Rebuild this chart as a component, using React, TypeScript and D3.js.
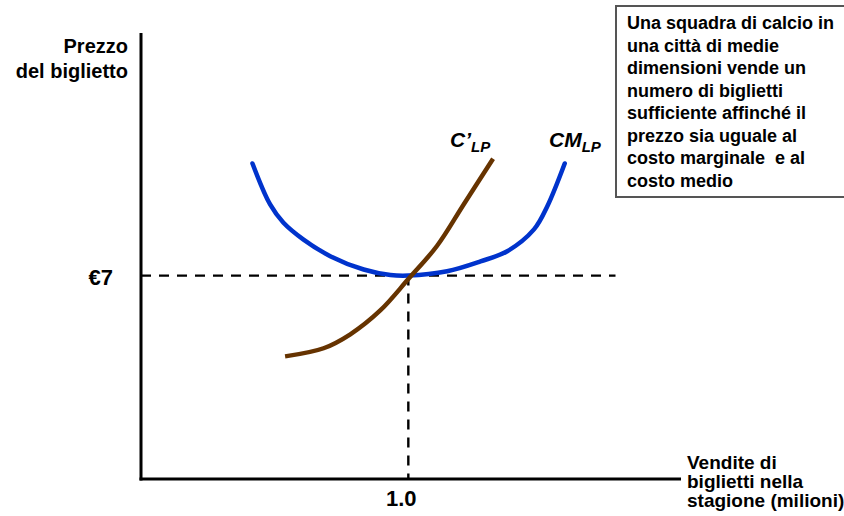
import React from "react";
import * as d3 from "d3";

// Long-run average cost (CM_LP): quantity (millions) / price (€)
const acQuantity = [0.417, 0.483, 0.533, 0.608, 0.708, 0.833, 0.933, 1.0, 1.145, 1.27, 1.37, 1.47, 1.52, 1.585];
const acPrice = [10.86, 9.45, 8.82, 8.24, 7.67, 7.21, 7.02, 7.0, 7.15, 7.49, 7.84, 8.59, 9.39, 10.86];

// Long-run marginal cost (C'_LP)
const mcQuantity = [0.539, 0.683, 0.783, 0.895, 1.0, 1.107, 1.207, 1.317];
const mcPrice = [4.22, 4.5, 4.98, 5.8, 6.88, 8.02, 9.45, 11.02];

const priceTicks = [7];
const priceTickLabels = ["€7"];
const quantityTicks = [1.0];
const quantityTickLabels = ["1.0"];

const yLabelLines = ["Prezzo", "del biglietto"];
const xLabelLines = ["Vendite di", "biglietti nella", "stagione (milioni)"];
const noteLines = [
  "Una squadra di calcio in",
  "una città di medie",
  "dimensioni vende un",
  "numero di biglietti",
  "sufficiente affinché il",
  "prezzo sia uguale al",
  "costo marginale  e al",
  "costo medio",
];

const W = 844;
const H = 516;
const FONT = "'Liberation Sans', Arial, Helvetica, sans-serif";

export default function App() {
  const x = d3.scaleLinear().domain([0, 2.02]).range([141, 681]);
  const y = d3.scaleLinear().domain([0, 15.35]).range([479, 33]);

  const line = d3
    .line<[number, number]>()
    .x((d) => x(d[0]))
    .y((d) => y(d[1]))
    .curve(d3.curveCatmullRom.alpha(0.5));

  const acPts = acQuantity.map((q, i) => [q, acPrice[i]] as [number, number]);
  const mcPts = mcQuantity.map((q, i) => [q, mcPrice[i]] as [number, number]);

  const eqQ = quantityTicks[0];
  const eqP = priceTicks[0];

  return (
    <svg
      width={W}
      height={H}
      style={{ position: "fixed", left: 0, top: 0, background: "#fff" }}
      fontFamily={FONT}
    >
      <rect x={0} y={0} width={W} height={H} fill="#fff" />

      {/* dashed guides */}
      <line
        x1={x(0)}
        x2={x(1.775)}
        y1={y(eqP)}
        y2={y(eqP)}
        stroke="#000"
        strokeWidth={2.4}
        strokeDasharray="10,8"
      />
      <line
        x1={x(eqQ)}
        x2={x(eqQ)}
        y1={y(eqP)}
        y2={y(0)}
        stroke="#000"
        strokeWidth={2.4}
        strokeDasharray="10,8"
      />

      {/* curves */}
      <path d={line(acPts) || ""} fill="none" stroke="#0033CC" strokeWidth={4.5} strokeLinecap="round" strokeLinejoin="round" />
      <path d={line(mcPts) || ""} fill="none" stroke="#663300" strokeWidth={4.5} strokeLinecap="butt" strokeLinejoin="round" />

      {/* axes */}
      <line x1={x(0)} x2={x(0)} y1={y(15.35)} y2={y(0) + 1.5} stroke="#000" strokeWidth={3} />
      <line x1={x(0) - 1.5} x2={x(2.02)} y1={y(0)} y2={y(0)} stroke="#000" strokeWidth={3} />

      {/* tick labels */}
      {priceTicks.map((p, i) => (
        <text key={"p" + i} x={113} y={y(p) + 9} textAnchor="end" fontSize={22} fontWeight="bold">
          {priceTickLabels[i]}
        </text>
      ))}
      {quantityTicks.map((q, i) => (
        <text key={"q" + i} x={x(q) - 7} y={506} textAnchor="middle" fontSize={22} fontWeight="bold">
          {quantityTickLabels[i]}
        </text>
      ))}

      {/* axis titles */}
      <text x={128} y={53} textAnchor="end" fontSize={20} fontWeight="bold">
        {yLabelLines.map((l, i) => (
          <tspan key={i} x={128} dy={i === 0 ? 0 : 25}>
            {l}
          </tspan>
        ))}
      </text>
      <text x={687} y={469} fontSize={19} fontWeight="bold">
        {xLabelLines.map((l, i) => (
          <tspan key={i} x={687} dy={i === 0 ? 0 : 19}>
            {l}
          </tspan>
        ))}
      </text>

      {/* curve labels */}
      <text x={450} y={147} fontSize={21} fontWeight="bold" fontStyle="italic">
        C’<tspan fontSize={15} dy={5}>LP</tspan>
      </text>
      <text x={549} y={147} fontSize={21} fontWeight="bold" fontStyle="italic">
        CM<tspan fontSize={15} dy={5}>LP</tspan>
      </text>

      {/* note box */}
      <rect x={616} y={6} width={240} height={191} fill="#fff" stroke="#555" strokeWidth={2} />
      <text x={627} y={29} fontSize={18} fontWeight="bold">
        {noteLines.map((l, i) => (
          <tspan key={i} x={627} dy={i === 0 ? 0 : 22.5} style={{ whiteSpace: "pre" }}>
            {l}
          </tspan>
        ))}
      </text>
    </svg>
  );
}
